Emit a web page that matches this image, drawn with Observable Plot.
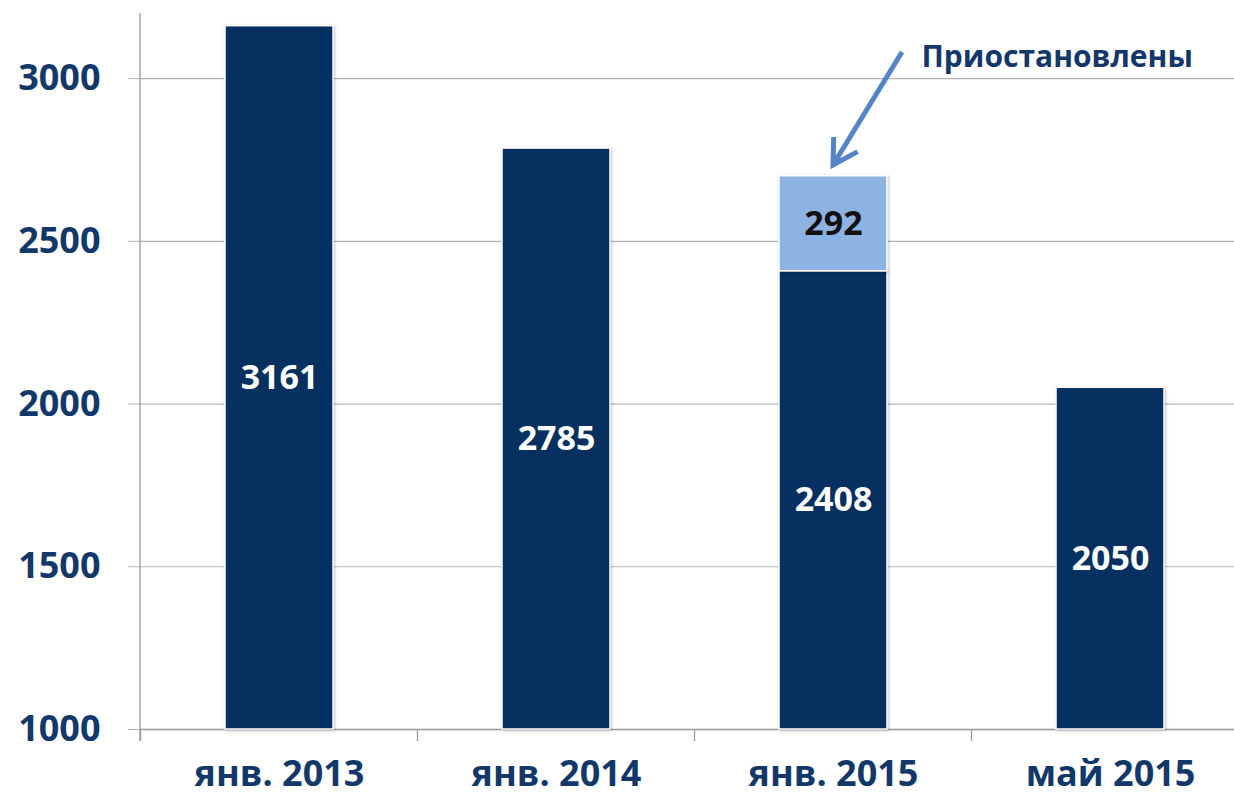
<!DOCTYPE html>
<html><head><meta charset="utf-8">
<script src="https://cdn.jsdelivr.net/npm/d3@7"></script>
<script src="https://cdn.jsdelivr.net/npm/@observablehq/plot@0.6"></script>
<style>
html,body{margin:0;padding:0;background:#fff;}
#chart{width:1234px;height:802px;overflow:hidden;}
#chart g[aria-label="bar"] rect{filter:drop-shadow(1px 1px 1.5px rgba(0,0,0,0.25));}
</style></head><body><div id="chart"></div>
<script>
const categories = ["янв. 2013", "янв. 2014", "янв. 2015", "май 2015"];
const activeValues = [3161, 2785, 2408, 2050];
const suspendedValues = [0, 0, 292, 0];
const yTicks = [1000, 1500, 2000, 2500, 3000];
const yDomain = [1000, 3200];
const annotationLabel = "Приостановлены";
const annotationCategory = "янв. 2015";
const annotationTail = 3080;
const annotationTip = 2733;
const annotationTextY = 3064;

const navy = "#06305f";
const lightBlue = "#8db3e2";
const textNavy = "#12386a";
const gridGray = "#b4b4b4";

const segments = [];
categories.forEach((c, i) => {
  segments.push({category: c, series: "active", y1: yDomain[0], y2: activeValues[i], value: activeValues[i]});
  if (suspendedValues[i] > 0) {
    segments.push({category: c, series: "suspended", y1: activeValues[i], y2: activeValues[i] + suspendedValues[i], value: suspendedValues[i]});
  }
});

function decorations(index, scales, values, dimensions) {
  const x = scales.x, y = scales.y;
  const bw = typeof x.bandwidth === "function" ? x.bandwidth() : x.bandwidth;
  const step = x(categories[1]) - x(categories[0]);
  const g = d3.create("svg:g");
  const y0 = y(yDomain[0]);
  g.append("line")
    .attr("x1", dimensions.marginLeft).attr("x2", dimensions.marginLeft)
    .attr("y1", y(yDomain[1])).attr("y2", y0 + 12)
    .attr("stroke", "#999").attr("stroke-width", 1.3);
  const bounds = categories.map(c => x(c) - (step - bw) / 2);
  bounds.push(bounds[bounds.length - 1] + step);
  for (const b of bounds) {
    g.append("line").attr("x1", b).attr("x2", b).attr("y1", y0).attr("y2", y0 + 12)
      .attr("stroke", "#999").attr("stroke-width", 1.3);
  }
  const cx = x(annotationCategory) + bw / 2;
  const tx = cx + 69, ty = y(annotationTail);
  const hx = cx, hy = y(annotationTip);
  const dx = hx - tx, dy = hy - ty, len = Math.hypot(dx, dy);
  const ux = dx / len, uy = dy / len;
  const L = 28, a = 30 * Math.PI / 180;
  const rot = (vx, vy, t) => [vx * Math.cos(t) - vy * Math.sin(t), vx * Math.sin(t) + vy * Math.cos(t)];
  const [ax1, ay1] = rot(ux, uy, a), [ax2, ay2] = rot(ux, uy, -a);
  g.append("path")
    .attr("d", `M${tx},${ty}L${hx - ux * 2},${hy - uy * 2}M${hx - ax1 * L},${hy - ay1 * L}L${hx},${hy}L${hx - ax2 * L},${hy - ay2 * L}`)
    .attr("fill", "none").attr("stroke", "#5585c5").attr("stroke-width", 5)
    .attr("stroke-linejoin", "miter").attr("stroke-linecap", "butt");
  return g.node();
}

const plot = Plot.plot({
  width: 1234,
  height: 802,
  marginLeft: 140,
  marginRight: 0,
  marginTop: 13,
  marginBottom: 73,
  style: {fontFamily: "'Open Sans', sans-serif", background: "transparent", overflow: "visible"},
  x: {type: "band", domain: categories, range: [140, 1250], paddingInner: 0.61, paddingOuter: 0.305, label: null},
  y: {domain: yDomain, label: null},
  color: {domain: ["active", "suspended"], range: [navy, lightBlue]},
  marks: [
    Plot.gridY(yTicks.slice(1), {stroke: gridGray, strokeOpacity: 1, strokeWidth: 1.2}),
    Plot.axisY(yTicks, {tickSize: 12, tickPadding: 28, stroke: gridGray, strokeOpacity: 1, fontSize: 36, fontWeight: 700, fill: textNavy, tickFormat: d3.format("d"), label: null}),
    Plot.axisX({tickSize: 0, tickPadding: 31, fontSize: 36, fontWeight: 700, fill: textNavy, label: null}),
    Plot.ruleY([yDomain[0]], {stroke: "#999", strokeWidth: 1.3}),
    Plot.barY(segments, {x: "category", y1: "y1", y2: "y2", fill: "series", stroke: "#ffffff", strokeWidth: 1.5}),
    Plot.text(segments.filter(d => d.series === "active"), {x: "category", y: d => (d.y1 + d.y2) / 2, text: d => String(d.value), fill: "white", fontSize: 34, fontWeight: 700}),
    Plot.text(segments.filter(d => d.series === "suspended"), {x: "category", y: d => (d.y1 + d.y2) / 2, text: d => String(d.value), fill: "#111111", fontSize: 34, fontWeight: 700}),
    Plot.text([annotationLabel], {x: () => annotationCategory, y: () => annotationTextY, text: d => d, dx: 88, textAnchor: "start", fontSize: 30, fontWeight: 700, fill: textNavy}),
    decorations
  ]
});
document.getElementById("chart").appendChild(plot);
</script></body></html>
